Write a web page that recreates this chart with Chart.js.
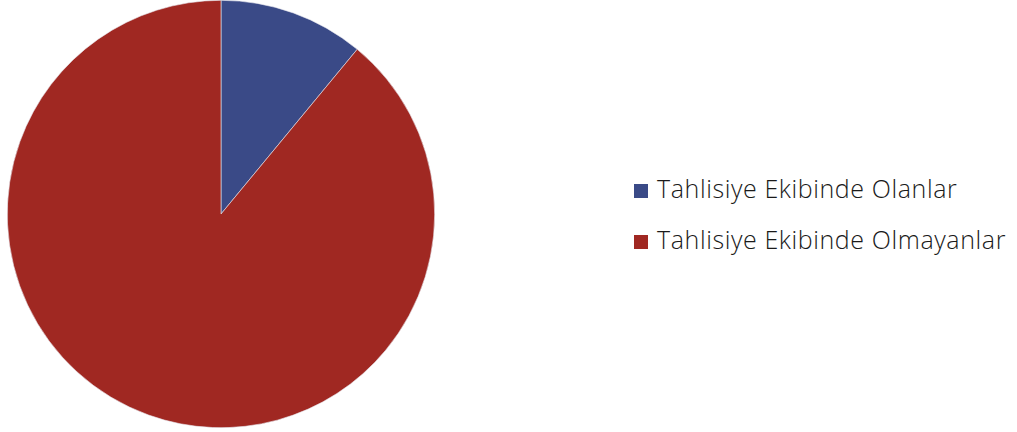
<!DOCTYPE html>
<html>
<head>
<meta charset="utf-8">
<script src="https://cdn.jsdelivr.net/npm/chart.js@4"></script>
<style>
    html, body { margin: 0; padding: 0; background: #fff; }
    #wrap { position: relative; width: 1017px; height: 432px; }
    #pieBox { position: absolute; left: 7px; top: 0; width: 428px; height: 428px; }
    #legend { position: absolute; left: 634px; top: 172px; font-family: "Open Sans", sans-serif; font-weight: 300; font-size: 25px; letter-spacing: 0.6px; color: #1a1a1a; }
    #legend div { height: 51px; line-height: 32px; white-space: nowrap; }
    #legend span.box { display: inline-block; width: 14px; height: 14px; margin-right: 9px; vertical-align: 0px; }
</style>
</head>
<body>
<div id="wrap">
    <div id="pieBox"><canvas id="pie-chart"></canvas></div>
    <div id="legend"></div>
</div>
<script>
    var categories = ["Tahlisiye Ekibinde Olanlar", "Tahlisiye Ekibinde Olmayanlar"];
    var values = [11, 89];
    var colors = ["#3a4a87", "#a02822"];

    // Pie Chart
    var ctx = document.getElementById("pie-chart").getContext("2d");
    var myChart = new Chart(ctx, {
        type: "pie",
        data: {
            labels: categories,
            datasets: [{
                data: values,
                backgroundColor: colors,
                borderColor: "#e8e8ee",
                borderWidth: 0.6
            }]
        },
        options: {
            responsive: true,
            maintainAspectRatio: false,
            animation: false,
            plugins: {
                legend: { display: false },
                tooltip: { enabled: false }
            }
        }
    });

    // Legend
    var legend = document.getElementById("legend");
    categories.forEach(function (name, i) {
        var row = document.createElement("div");
        var box = document.createElement("span");
        box.className = "box";
        box.style.background = colors[i];
        row.appendChild(box);
        row.appendChild(document.createTextNode(name));
        legend.appendChild(row);
    });
</script>
</body>
</html>
